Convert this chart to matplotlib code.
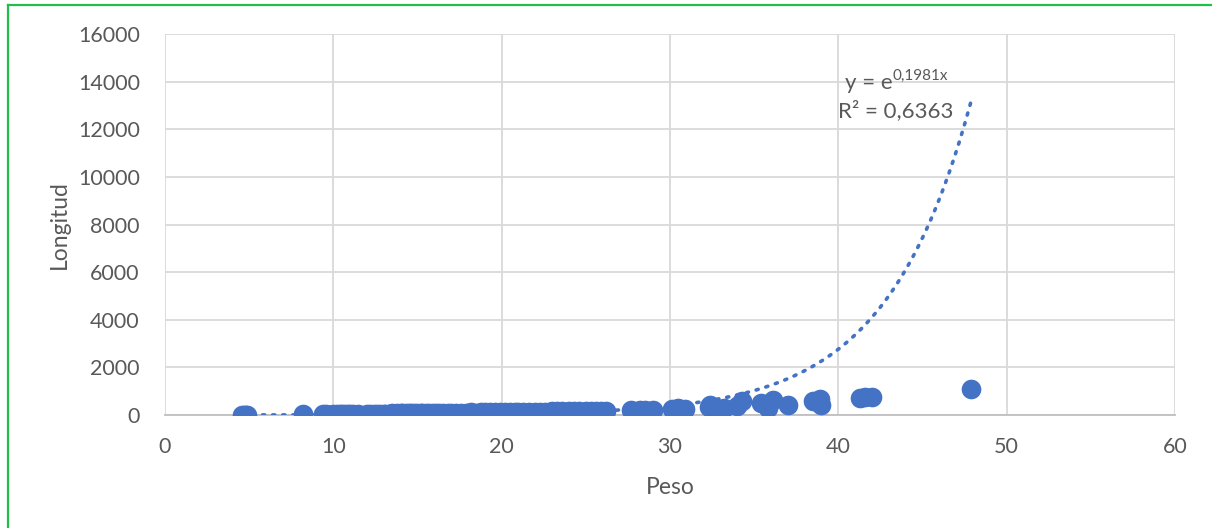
import numpy as np
import matplotlib.pyplot as plt
from matplotlib.lines import Line2D

# Data (Peso vs Longitud)
peso = [4.6, 4.7, 4.8, 4.9, 8.2,
        9.4, 9.6, 10.0, 10.2, 10.4, 10.5, 10.7, 10.9, 11.0, 11.2, 11.5,
        12.0, 12.2, 12.4, 12.6, 12.8, 13.0, 13.1, 13.3, 13.5, 13.6, 13.8,
        14.0, 14.1, 14.3, 14.5, 14.6, 14.8, 15.0, 15.2, 15.3, 15.5, 15.7,
        15.9, 16.1, 16.3, 16.5, 16.8, 17.0, 17.3, 17.6, 17.9, 18.2, 18.5,
        18.8, 19.0, 19.3, 19.6, 19.9, 20.2, 20.5, 20.8, 21.0, 21.3, 21.6,
        22.0, 22.3, 22.6, 23.0, 23.3, 23.6, 24.0, 24.3, 24.6, 25.0, 25.3,
        25.6, 25.9, 26.2,
        27.7, 28.2, 28.5, 29.0, 30.1, 30.5, 30.9,
        32.3, 32.4, 33.0, 33.2, 34.0, 34.3, 35.4, 35.8, 36.1, 37.0,
        38.5, 38.9, 39.0, 41.3, 41.6, 42.0, 47.9]
longitud = [8, 10, 9, 12, 25,
            30, 28, 35, 32, 40, 38, 36, 42, 45, 40, 48,
            50, 46, 55, 52, 58, 60, 55, 62, 65, 60, 68,
            70, 66, 72, 75, 70, 78, 80, 76, 82, 85, 80,
            88, 90, 86, 95, 92, 98, 100, 96, 105, 108, 102,
            112, 115, 110, 120, 118, 125, 122, 130, 128, 135, 132,
            140, 138, 145, 150, 148, 155, 160, 158, 165, 170, 168,
            175, 180, 178,
            210, 200, 220, 215, 260, 280, 270,
            330, 420, 260, 300, 380, 590, 500, 290, 630, 420,
            590, 690, 420, 720, 750, 740, 1090]

# Exponential trendline as shown on the chart: y = e^(0.1981x), R² = 0.6363
trend_b = 0.1981
r2_label = "R² = 0,6363"

blue = "#4472c4"
grey = "#595959"

fig = plt.figure(figsize=(12.12, 5.28), dpi=100)
ax = fig.add_axes([0.136, 0.214, 0.8335, 0.7215])
plt.rcParams["font.family"] = ["Lato", "DejaVu Sans"]

ax.scatter(peso, longitud, s=200, color=blue, zorder=3, linewidths=0)

xt = np.linspace(min(peso), max(peso), 300)
ax.plot(xt, np.exp(trend_b * xt), color=blue, lw=2.6,
        linestyle=(0, (0.6, 2.2)), dash_capstyle="round", zorder=4)

ax.set_xlim(0, 60)
ax.set_ylim(0, 16000)
ax.set_xticks(range(0, 61, 10))
ax.set_yticks(range(0, 16001, 2000))
ax.grid(True, color="#d9d9d9", lw=1.3)
ax.set_axisbelow(True)
for s in ["top", "right", "left"]:
    ax.spines[s].set_visible(False)
ax.spines["bottom"].set_color("#bfbfbf")
ax.spines["bottom"].set_linewidth(1.3)
ax.tick_params(length=0, labelsize=15.5, labelcolor=grey)
ax.tick_params(axis="y", pad=18)
ax.tick_params(axis="x", pad=16)
for lab in ax.get_xticklabels() + ax.get_yticklabels():
    lab.set_family("Lato")

ax.set_xlabel("Peso", fontsize=16.5, color=grey, family="Lato", labelpad=14)
ax.set_ylabel("Longitud", fontsize=16.5, color=grey, family="Lato", labelpad=6)

# trendline equation
ax.text(40.4, 13950, "y = e", fontsize=16, color=grey, family="Lato",
        ha="left", va="center")
ax.text(43.2, 14250, "0,1981x", fontsize=11, color=grey, family="Lato",
        ha="left", va="center")
ax.text(40.0, 12800, r2_label, fontsize=16, color=grey, family="Lato",
        ha="left", va="center")

# green frame around the chart
green = "#1fbf4a"
x0 = 7.5 / 1212
y0 = 1 - 4.5 / 528
fig.add_artist(Line2D([x0, x0], [0, y0], transform=fig.transFigure,
                      color=green, lw=1.6))
fig.add_artist(Line2D([x0, 1], [y0, y0], transform=fig.transFigure,
                      color=green, lw=1.6))

fig.savefig("out.png", dpi=100)
